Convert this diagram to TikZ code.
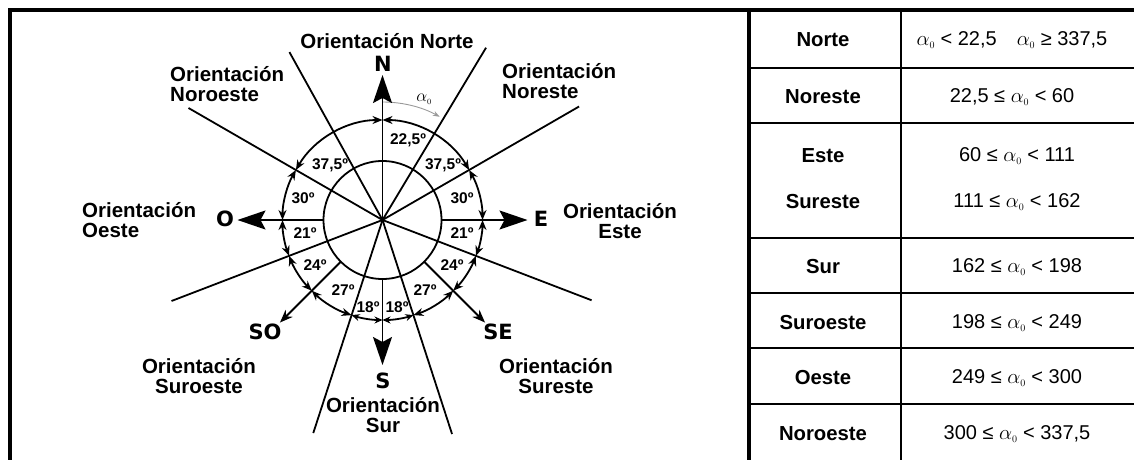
\documentclass[tikz,border=0pt]{standalone}
\usepackage{fontspec}
\setmainfont{Liberation Sans}
\newfontfamily\cardfont{DejaVu Sans}
\usetikzlibrary{arrows.meta,calc}

\newcommand{\az}{$\alpha_{\scriptscriptstyle 0}$}

\tikzset{
  ray/.style={line width=1.8pt},
  arcseg/.style={line width=1.8pt, {Stealth[length=10pt,width=8pt]}-{Stealth[length=10pt,width=8pt]}},
  arcsmall/.style={line width=1.8pt, {Stealth[length=8pt,width=7pt,open]}-{Stealth[length=8pt,width=7pt,open]}},
  card/.style={line width=1.8pt, -{Stealth[length=28pt,width=19pt,inset=5pt]}},
  diag/.style={line width=1.8pt, -{Stealth[length=13pt,width=10pt]}},
  lbl/.style={font=\bfseries\fontsize{20.5}{20.5}\selectfont, inner sep=0pt},
  deg/.style={font=\bfseries\fontsize{15.5}{17}\selectfont, inner sep=0pt},
  cardlbl/.style={font=\cardfont\bfseries\fontsize{21}{23}\selectfont, inner sep=0pt},
  thead/.style={font=\bfseries\fontsize{20.3}{22}\selectfont, inner sep=0pt},
  tval/.style={font=\fontsize{20}{22}\selectfont, inner sep=0pt},
}

\begin{document}
\begin{tikzpicture}[x=1pt, y=1pt]
\useasboundingbox (0,0) rectangle (1134,-460);

% marco y tabla
\draw[line width=4pt] (10,-460) -- (10,-10.5) -- (1134,-10.5);
\draw[line width=4pt] (749,-10) -- (749,-460);
\draw[line width=2.5pt] (901,-10) -- (901,-460);
\foreach \y in {68,123,238,293,348,404}
  \draw[line width=2.8pt] (749,-\y) -- (1134,-\y);

% rosa de orientaciones
\coordinate (C) at (382.5,-220);
\draw[ray] (C) circle (59);

% lineas divisorias
\foreach \b/\l in {31/201, 60/227, 111/224, 162/225, 198/224, 249/226, 300/224, 331/192}
  \draw[ray] (C) -- ++({90-\b}:\l);

% arcos con flechas
\foreach \a/\b in {0/60, 60/90, 90/111, 111/135, 135/162, 198/225, 225/249, 249/270, 270/300, 300/360}
  \draw[arcseg] (C) ++({90-\a}:100) arc[start angle={90-\a}, end angle={90-\b}, radius=100];
\foreach \a/\b in {162/180, 180/198}
  \draw[arcsmall] (C) ++({90-\a}:100) arc[start angle={90-\a}, end angle={90-\b}, radius=100];

% angulo alfa
\draw[gray!80, line width=0.9pt, -{Stealth[length=7pt,width=5pt]}] (C) ++(90:118) arc[start angle=90, end angle=61, radius=118];
\node[font=\fontsize{17}{19}\selectfont, inner sep=0pt] (alfa) at (424,-99) {\az};

% puntos cardinales
\coordinate (Nt) at ($(C)+(90:145)$);
\coordinate (Et) at ($(C)+(0:145)$);
\coordinate (St) at ($(C)+(-90:145)$);
\coordinate (Ot) at ($(C)+(180:145)$);
\coordinate (SEt) at ($(C)+(-45:145)$);
\coordinate (SOt) at ($(C)+(225:145)$);
\draw[card] (C) -- (Nt);
\draw[card] ($(C)+(0:59)$) -- (Et);
\draw[card] ($(C)+(-90:59)$) -- (St);
\draw[card] ($(C)+(180:59)$) -- (Ot);
\draw[diag] ($(C)+(-45:59)$) -- (SEt);
\draw[diag] ($(C)+(225:59)$) -- (SOt);

\node[cardlbl] (N) at (383,-64) {N};
\node[cardlbl] (E) at (541,-219) {E};
\node[cardlbl] (S) at (383,-381) {S};
\node[cardlbl] (O) at (225,-219) {O};
\node[cardlbl] (SE) at (498,-332) {SE};
\node[cardlbl] (SO) at (265,-332) {SO};

% grados
\node[deg] (g1) at (408,-140) {22,5º};
\node[deg] (g2) at (443,-165) {37,5º};
\node[deg] (g3) at (330,-165) {37,5º};
\node[deg] (g4) at (462,-198) {30º};
\node[deg] (g5) at (303,-198) {30º};
\node[deg] (g6) at (462,-233) {21º};
\node[deg] (g7) at (305,-233) {21º};
\node[deg] (g8) at (452,-265) {24º};
\node[deg] (g9) at (315,-265) {24º};
\node[deg] (g10) at (425,-290) {27º};
\node[deg] (g11) at (343,-290) {27º};
\node[deg] (g12) at (368,-307) {18º};
\node[deg] (g13) at (397,-307) {18º};

% orientaciones
\node[lbl] (oN) at (387,-41) {Orientación Norte};
\node[lbl, align=left, anchor=west] (oNO) at (170,-84) {Orientación\\Noroeste};
\node[lbl, align=left, anchor=west] (oNE) at (502,-81) {Orientación\\Noreste};
\node[lbl, align=left, anchor=west] (oO) at (82,-220) {Orientación\\Oeste};
\node[lbl, align=center] (oE) at (620,-221) {Orientación\\Este};
\node[lbl, align=center] (oSO) at (199,-376) {Orientación\\Suroeste};
\node[lbl, align=center] (oSE) at (556,-376) {Orientación\\Sureste};
\node[lbl, align=center] (oS) at (383,-415) {Orientación\\Sur};

% tabla
\node[thead] (tN) at (823,-40) {Norte};
\node[thead] (tNE) at (823,-97) {Noreste};
\node[thead] (tE) at (823,-156) {Este};
\node[thead] (tSE) at (823,-202) {Sureste};
\node[thead] (tS) at (823,-267) {Sur};
\node[thead] (tSO) at (823,-323) {Suroeste};
\node[thead] (tO) at (823,-378) {Oeste};
\node[thead] (tNO) at (823,-434) {Noroeste};

\node[tval] (vN) at (1012,-40) {\az{} < 22,5\hspace{1em}\az{} ≥ 337,5};
\node[tval] (vNE) at (1012,-97) {22,5 ≤ \az{} < 60};
\node[tval] (vE) at (1017,-156) {60 ≤ \az{} < 111};
\node[tval] (vSE) at (1017,-202) {111 ≤ \az{} < 162};
\node[tval] (vS) at (1017,-267) {162 ≤ \az{} < 198};
\node[tval] (vSO) at (1017,-323) {198 ≤ \az{} < 249};
\node[tval] (vO) at (1017,-378) {249 ≤ \az{} < 300};
\node[tval] (vNO) at (1017,-434) {300 ≤ \az{} < 337,5};

\end{tikzpicture}
\end{document}
